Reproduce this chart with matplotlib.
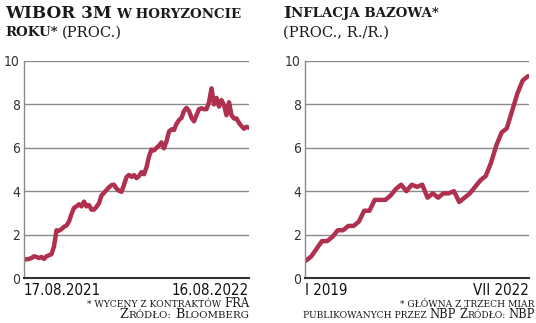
import matplotlib
matplotlib.use('Agg')
import matplotlib.pyplot as plt

# WIBOR 3M in a year horizon (FRA), 17.08.2021 - 16.08.2022
wibor = [0.85, 0.86, 0.88, 0.92, 1.0, 0.97, 0.92, 0.97, 0.88, 1.0,
         1.05, 1.1, 1.45, 2.2, 2.18, 2.25, 2.36, 2.42, 2.6, 2.95,
         3.23, 3.3, 3.4, 3.3, 3.52, 3.3, 3.36, 3.15, 3.15, 3.28,
         3.45, 3.8, 3.93, 4.05, 4.18, 4.28, 4.3, 4.12, 4.02, 3.97,
         4.3, 4.65, 4.75, 4.66, 4.74, 4.6, 4.7, 4.88, 4.78, 5.1,
         5.6, 5.92, 5.88, 6.0, 6.1, 6.25, 5.98, 6.3, 6.75, 6.85,
         6.82, 7.1, 7.28, 7.38, 7.7, 7.84, 7.7, 7.38, 7.22, 7.5,
         7.78, 7.82, 7.78, 7.78, 8.1, 8.74, 8.0, 8.3, 7.9, 8.2,
         7.97, 7.5, 8.1, 7.5, 7.35, 7.35, 7.15, 7.0, 6.88, 6.97, 6.92]
wibor_ticks = ['17.08.2021', '16.08.2022']

# core inflation, monthly I 2019 - VII 2022
core = [0.8, 1.0, 1.35, 1.7, 1.7, 1.9, 2.2, 2.2, 2.4, 2.4, 2.6, 3.1,
        3.1, 3.6, 3.6, 3.6, 3.8, 4.1, 4.3, 4.0, 4.3, 4.2, 4.3, 3.7,
        3.9, 3.7, 3.9, 3.9, 4.0, 3.5, 3.7, 3.9, 4.2, 4.5, 4.7, 5.3,
        6.1, 6.7, 6.9, 7.7, 8.5, 9.1, 9.3]
core_ticks = ['I 2019', 'VII 2022']

W, H = 536, 323
RED = '#b0304f'
TXT = '#1a1a1a'
SERIF = 'DejaVu Serif'
SANS = 'DejaVu Sans'

fig = plt.figure(figsize=(W / 100, H / 100), dpi=100)
fig.patch.set_facecolor('white')


def make_ax(x0, x1):
    ax = fig.add_axes([x0 / W, (H - 278) / H, (x1 - x0) / W, 217 / H])
    ax.set_ylim(0, 10)
    ax.set_yticks([0, 2, 4, 6, 8, 10])
    ax.grid(axis='y', color='#8a8a8a', linewidth=1.0)
    ax.set_axisbelow(True)
    for s in ['top', 'right']:
        ax.spines[s].set_visible(False)
    ax.spines['left'].set_color('#8a8a8a')
    ax.spines['left'].set_linewidth(1.0)
    ax.spines['bottom'].set_color('#333333')
    ax.spines['bottom'].set_linewidth(1.5)
    ax.tick_params(length=0, pad=3)
    for lab in ax.get_yticklabels():
        lab.set_family(SANS)
        lab.set_stretch('condensed')
        lab.set_fontsize(10)
        lab.set_color('#333333')
    return ax


def put_ticks(ax, labels):
    ax.set_xticks([])
    ax.text(0, -0.022, labels[0], transform=ax.transAxes, ha='left', va='top',
            family=SANS, stretch='condensed', fontsize=10.8, color='#111111')
    ax.text(1, -0.022, labels[1], transform=ax.transAxes, ha='right', va='top',
            family=SANS, stretch='condensed', fontsize=10.8, color='#111111')


ax1 = make_ax(24, 249)
ax1.plot(range(len(wibor)), wibor, color=RED, linewidth=3.2, solid_capstyle='round')
ax1.set_xlim(0, len(wibor) - 1)
put_ticks(ax1, wibor_ticks)

ax2 = make_ax(305, 529)
ax2.plot(range(len(core)), core, color=RED, linewidth=3.2, solid_capstyle='round')
ax2.set_xlim(-0.2, len(core) - 0.8)
put_ticks(ax2, core_ticks)

renderer = fig.canvas.get_renderer()


def runs(x, y, parts, ha='left'):
    # parts: (text, size, weight, gap before in px)
    objs = []
    for s, size, weight, gap in parts:
        t = fig.text(0, 0, s, fontsize=size, fontweight=weight, family=SERIF,
                     va='baseline', ha='left', color=TXT)
        objs.append((t, gap))
    widths = [t.get_window_extent(renderer).width for t, g in objs]
    total = sum(widths) + sum(g for t, g in objs)
    cx = x if ha == 'left' else x - total
    for (t, g), w in zip(objs, widths):
        cx += g
        t.set_position((cx / W, (H - y) / H))
        cx += w


# titles
runs(5, 17.5, [('WIBOR 3M', 12.2, 'bold', 0), ('W HORYZONCIE', 9.6, 'bold', 4)])
runs(5, 36.5, [('ROKU*', 9.6, 'bold', 0), ('(PROC.)', 10.6, 'normal', 4)])
runs(283, 17.5, [('I', 12.2, 'bold', 0), ('NFLACJA BAZOWA*', 9.6, 'bold', 0)])
runs(283, 36.5, [('(PROC., R./R.)', 10.6, 'normal', 0)])

# footnotes
runs(249, 307, [('* WYCENY Z KONTRAKTÓW', 6.6, 'normal', 0), ('FRA', 8.3, 'normal', 3)], ha='right')
runs(249, 318, [('Ź', 9.2, 'normal', 0), ('RÓDŁO:', 7.4, 'normal', 0),
                ('B', 9.2, 'normal', 4), ('LOOMBERG', 7.4, 'normal', 0)], ha='right')
runs(535, 307, [('* GŁÓWNA Z TRZECH MIAR', 6.6, 'normal', 0)], ha='right')
runs(535, 318, [('PUBLIKOWANYCH PRZEZ', 6.6, 'normal', 0), ('NBP', 8.3, 'normal', 3),
                ('Ź', 8.3, 'normal', 3), ('RÓDŁO:', 6.6, 'normal', 0), ('NBP', 8.3, 'normal', 3)],
     ha='right')

fig.savefig('out.png', dpi=100, facecolor='white')
